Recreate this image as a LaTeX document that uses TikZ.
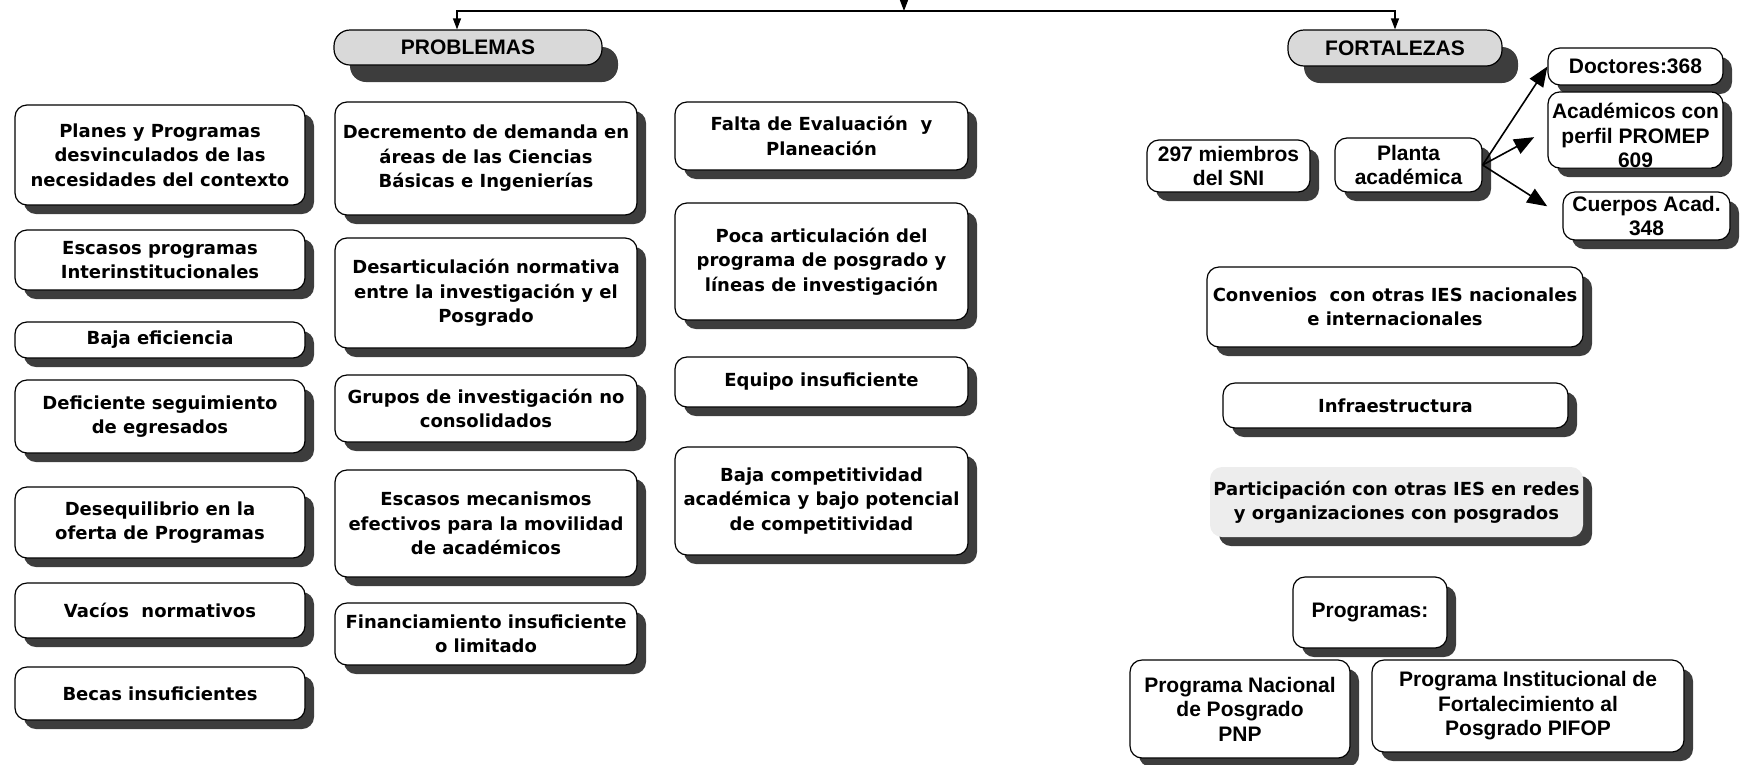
\documentclass[tikz,border=0pt]{standalone}
\usepackage{fontspec}
\setmainfont{DejaVu Sans}
\newfontfamily\arialbf{Liberation Sans}
\usetikzlibrary{shadows,arrows.meta}
\tikzset{
  sombra/.style={drop shadow={shadow xshift=9pt, shadow yshift=-9pt, fill=black!76, opacity=1}},
  caja/.style={draw, line width=1.2pt, fill=white, rounded corners=12pt, align=center,
    inner sep=0pt, sombra, font=\bfseries\fontsize{18}{24.5}\selectfont},
  angosta/.style={caja, font=\arialbf\bfseries\fontsize{21}{24.5}\selectfont},
  titulo/.style={draw, line width=1.2pt, fill=black!15, rounded corners=16pt, inner sep=0pt,
    drop shadow={shadow xshift=16pt, shadow yshift=-17pt, fill=black!76, opacity=1},
    font=\arialbf\bfseries\fontsize{21}{24}\selectfont},
  flecha/.style={line width=1.2pt, -{Triangle[length=11pt,width=8pt]}},
  flechota/.style={line width=1.6pt, -{Triangle[length=20pt,width=16pt]}},
}
\begin{document}
\begin{tikzpicture}[x=1pt, y=-1pt]
  \useasboundingbox (0,0) rectangle (1740,764);
  % encabezados
  \node[titulo, minimum width=268, minimum height=35] (problemas) at (468,47.5) {PROBLEMAS};
  \node[titulo, minimum width=214, minimum height=36] (fortalezas) at (1395,48) {FORTALEZAS};
  \coordinate (arriba) at (904,0);
  \coordinate (barra) at (904,11);
  \draw[flecha] (arriba) -- (barra);
  \draw[flecha] (barra) -| ([xshift=-11pt]problemas.north);
  \draw[flecha] (barra) -| (fortalezas);
  % problemas, primera columna
  \node[caja, minimum width=290, minimum height=100] (planes) at (160,155)
    {Planes y Programas\\desvinculados de las\\necesidades del contexto};
  \node[caja, minimum width=290, minimum height=60] (interinst) at (160,260)
    {Escasos programas\\Interinstitucionales};
  \node[caja, minimum width=290, minimum height=36] (eficiencia) at (160,340)
    {Baja eficiencia};
  \node[caja, minimum width=290, minimum height=73] (egresados) at (160,416.5)
    {Deficiente seguimiento\\de egresados};
  \node[caja, minimum width=290, minimum height=71] (oferta) at (160,522.5)
    {Desequilibrio en la\\oferta de Programas};
  \node[caja, minimum width=290, minimum height=55] (vacios) at (160,610.5)
    {Vacíos~ normativos};
  \node[caja, minimum width=290, minimum height=53] (becas) at (160,693.5)
    {Becas insuficientes};
  % problemas, segunda columna
  \node[caja, minimum width=302, minimum height=113] (demanda) at (486,158.5)
    {Decremento de demanda en\\áreas de las Ciencias\\Básicas e Ingenierías};
  \node[caja, minimum width=302, minimum height=110] (normativa) at (486,293)
    {Desarticulación normativa\\entre la investigación y el\\Posgrado};
  \node[caja, minimum width=302, minimum height=67] (grupos) at (486,408.5)
    {Grupos de investigación no\\consolidados};
  \node[caja, minimum width=302, minimum height=107] (movilidad) at (486,523.5)
    {Escasos mecanismos\\efectivos para la movilidad\\de académicos};
  \node[caja, minimum width=302, minimum height=62] (financiamiento) at (486,634)
    {Financiamiento insuficiente\\o limitado};
  % problemas, tercera columna
  \node[caja, minimum width=293, minimum height=68] (evaluacion) at (821.5,136)
    {Falta de Evaluación~ y\\Planeación};
  \node[caja, minimum width=293, minimum height=117] (articulacion) at (821.5,261.5)
    {Poca articulación del\\programa de posgrado y\\líneas de investigación};
  \node[caja, minimum width=293, minimum height=50] (equipo) at (821.5,382)
    {Equipo insuficiente};
  \node[caja, minimum width=293, minimum height=108] (competitividad) at (821.5,501)
    {Baja competitividad\\académica y bajo potencial\\de competitividad};
  % fortalezas
  \node[angosta, minimum width=163, minimum height=52] (sni) at (1228.5,166)
    {297 miembros\\del SNI};
  \node[angosta, minimum width=147, minimum height=54] (planta) at (1408.5,165)
    {Planta\\académica};
  \node[angosta, minimum width=175, minimum height=37] (doctores) at (1635.5,66.5)
    {Doctores:368};
  \node[angosta, minimum width=175, minimum height=74] (promep) at (1635.5,130)
    {\rule{0pt}{27pt}Académicos con\\perfil PROMEP\\609};
  \node[angosta, minimum width=167, minimum height=48] (cuerpos) at (1646.5,216)
    {Cuerpos Acad.\\348};
  \draw[flechota] (planta.east) -- (doctores.west);
  \draw[flechota, shorten >=15pt] (planta.east) -- (promep.west);
  \draw[flechota, shorten >=18pt] (planta.east) -- (cuerpos.west);
  \node[caja, minimum width=376, minimum height=80] (convenios) at (1395,307)
    {Convenios~ con otras IES nacionales\\e internacionales};
  \node[caja, minimum width=345, minimum height=45] (infra) at (1395.5,405.5)
    {Infraestructura};
  \node[caja, draw=none, fill=black!7, minimum width=373, minimum height=70] (redes) at (1396.5,502)
    {Participación con otras IES en redes\\y organizaciones con posgrados};
  \node[angosta, minimum width=154, minimum height=71] (programas) at (1370,612.5)
    {Programas:};
  \node[angosta, minimum width=220, minimum height=98] (pnp) at (1240,709)
    {Programa Nacional\\de Posgrado\\PNP};
  \node[angosta, minimum width=312, minimum height=92] (pifop) at (1528,706)
    {Programa Institucional de\\Fortalecimiento al\\Posgrado PIFOP};
\end{tikzpicture}
\end{document}
